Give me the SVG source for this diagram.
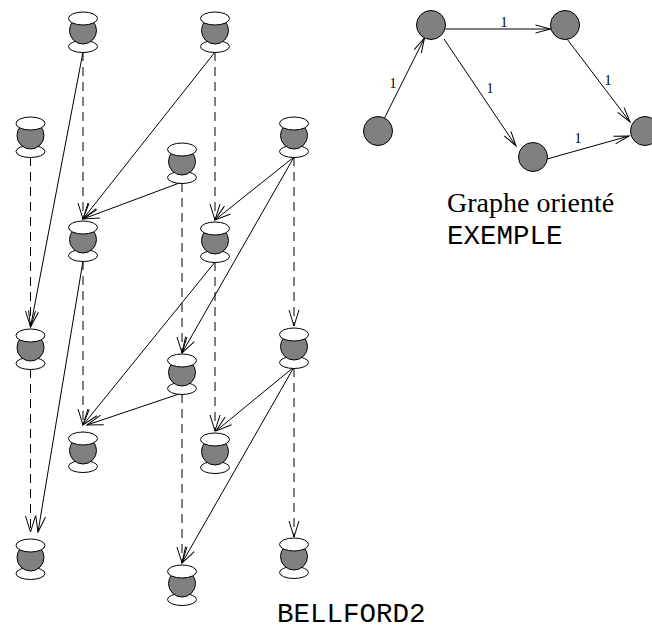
<svg xmlns="http://www.w3.org/2000/svg" width="652" height="631" viewBox="0 0 652 631">
<style>
.w{fill:#fff;stroke:#000;stroke-width:1}
.g{fill:#808080;stroke:#000;stroke-width:1}
.e{fill:none;stroke:#000;stroke-width:1;marker-end:url(#ah)}
.d{fill:none;stroke:#000;stroke-width:1;stroke-dasharray:9 6;marker-end:url(#ah)}
.s{fill:none;stroke:#000;stroke-width:1;marker-end:url(#as)}
.lbl{font-family:"Liberation Serif","Times New Roman",serif;font-size:14px;text-anchor:middle;fill:#000}
.ser{font-family:"Liberation Serif","Times New Roman",serif;font-size:28px;fill:#000}
.mono{font-family:"Liberation Mono","Courier New",monospace;font-size:27.5px;fill:#000}
</style>
<defs>
<marker id="ah" markerUnits="userSpaceOnUse" orient="auto" refX="0" refY="0" markerWidth="20" markerHeight="12" overflow="visible">
<path d="M-16,-5 L0,0 L-16,5" fill="none" stroke="#000" stroke-width="1"/>
</marker>
<marker id="as" markerUnits="userSpaceOnUse" orient="auto" refX="0" refY="0" markerWidth="20" markerHeight="12" overflow="visible">
<path d="M-15,-4 L0,0 L-15,4" fill="none" stroke="#000" stroke-width="1"/>
</marker>
<g id="pot">
<ellipse class="w" cx="0" cy="34.5" rx="14.5" ry="6"/>
<circle class="g" cx="0" cy="18.5" r="13.5"/>
<ellipse class="w" cx="0" cy="6.5" rx="14.5" ry="6.5"/>
</g>
</defs>

<g id="connectors">
<line class="d" x1="30.5" y1="157" x2="30.5" y2="327"/>
<line class="d" x1="30.5" y1="369" x2="30.5" y2="532"/>
<line class="d" x1="83" y1="52" x2="83" y2="219"/>
<line class="d" x1="83" y1="261" x2="83" y2="425"/>
<line class="d" x1="182" y1="183" x2="182" y2="353"/>
<line class="d" x1="182" y1="394" x2="182" y2="563"/>
<line class="d" x1="215" y1="52" x2="215" y2="220"/>
<line class="d" x1="215" y1="262" x2="215" y2="431"/>
<line class="d" x1="294" y1="157" x2="294" y2="326"/>
<line class="d" x1="294" y1="368" x2="294" y2="537"/>
<line class="e" x1="83" y1="52" x2="30.5" y2="327"/>
<line class="e" x1="83" y1="261" x2="38" y2="532"/>
<line class="e" x1="215" y1="52" x2="83" y2="219"/>
<line class="e" x1="182" y1="182" x2="83" y2="219"/>
<line class="e" x1="294" y1="157" x2="215" y2="220"/>
<line class="e" x1="294" y1="157" x2="182" y2="353"/>
<line class="e" x1="215" y1="262" x2="83" y2="425"/>
<line class="e" x1="182" y1="393" x2="87" y2="425"/>
<line class="e" x1="294" y1="367" x2="216" y2="431"/>
<line class="e" x1="294" y1="367" x2="182" y2="563"/>
<line class="s" x1="384.5" y1="118" x2="424.5" y2="38"/>
<line class="s" x1="445.5" y1="29" x2="550.5" y2="29"/>
<line class="s" x1="444" y1="39" x2="516" y2="146"/>
<line class="s" x1="567" y1="39" x2="630" y2="122"/>
<line class="s" x1="547" y1="159" x2="629" y2="136"/>
</g>

<g id="labels">
<text class="lbl" x="393" y="88">1</text>
<text class="lbl" x="504" y="27">1</text>
<text class="lbl" x="490" y="93">1</text>
<text class="lbl" x="608" y="85">1</text>
<text class="lbl" x="578" y="143">1</text>
</g>

<g id="n1a"><use href="#pot" x="30.5" y="117"/></g>
<g id="n1b"><use href="#pot" x="30.5" y="329"/></g>
<g id="n1c"><use href="#pot" x="30.5" y="539"/></g>
<g id="n2a"><use href="#pot" x="83" y="12"/></g>
<g id="n2b"><use href="#pot" x="83" y="221"/></g>
<g id="n2c"><use href="#pot" x="83" y="432"/></g>
<g id="n3a"><use href="#pot" x="182" y="143"/></g>
<g id="n3b"><use href="#pot" x="182" y="354"/></g>
<g id="n3c"><use href="#pot" x="182" y="565"/></g>
<g id="n4a"><use href="#pot" x="215" y="12"/></g>
<g id="n4b"><use href="#pot" x="215" y="222"/></g>
<g id="n4c"><use href="#pot" x="215" y="433"/></g>
<g id="n5a"><use href="#pot" x="294" y="117"/></g>
<g id="n5b"><use href="#pot" x="294" y="328"/></g>
<g id="n5c"><use href="#pot" x="294" y="538"/></g>

<g id="A"><circle class="g" cx="378" cy="131" r="14.5"/></g>
<g id="B"><circle class="g" cx="431" cy="25" r="14.5"/></g>
<g id="C"><circle class="g" cx="565" cy="25" r="14.5"/></g>
<g id="D"><circle class="g" cx="533" cy="157" r="14.5"/></g>
<g id="E"><circle class="g" cx="645" cy="131" r="14.5"/></g>

<text class="ser" x="447" y="212">Graphe orienté</text>
<text class="mono" x="447" y="244">EXEMPLE</text>
<text class="mono" x="277" y="622">BELLFORD2</text>
</svg>
